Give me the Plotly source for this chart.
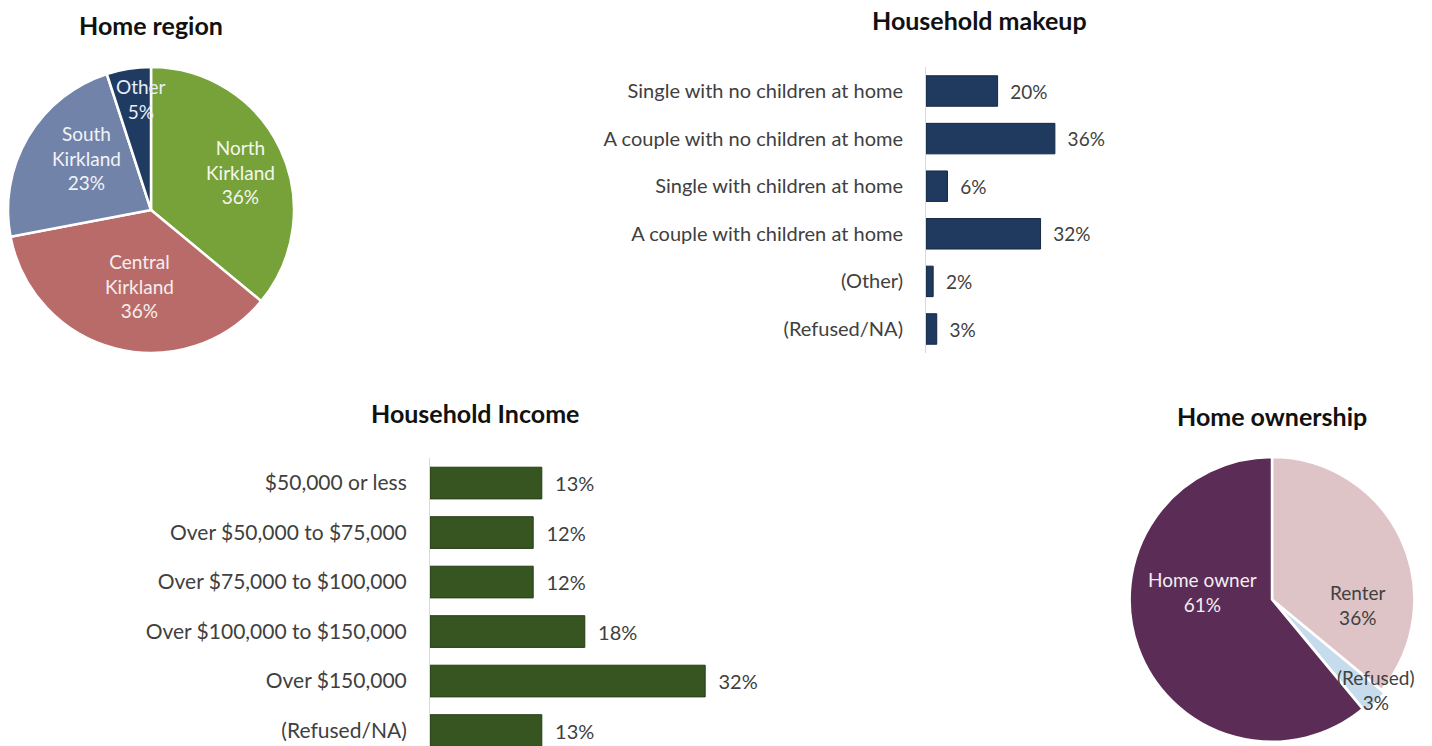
import math
import plotly.graph_objects as go

W, H = 1432, 746

# ---------------- data ----------------
region_labels = ["North Kirkland", "Central Kirkland", "South Kirkland", "Other"]
region_values = [36, 36, 23, 5]

makeup_labels = ["Single with no children at home", "A couple with no children at home",
                 "Single with children at home", "A couple with children at home",
                 "(Other)", "(Refused/NA)"]
makeup_values = [20, 36, 6, 32, 2, 3]

income_labels = ["$50,000 or less", "Over $50,000 to $75,000", "Over $75,000 to $100,000",
                 "Over $100,000 to $150,000", "Over $150,000", "(Refused/NA)"]
income_values = [13, 12, 12, 18, 32, 13]

own_labels = ["Renter", "(Refused)", "Home owner"]
own_values = [36, 3, 61]

# ---------------- styles ----------------
FONT = "Lato"
region_colors = ["#77a23a", "#b96b6a", "#7283a9", "#1f3b61"]
region_text = ["North<br>Kirkland<br>36%", "Central<br>Kirkland<br>36%", "South<br>Kirkland<br>23%", "Other<br>5%"]
region_text_color = ["#f4f7ee", "#f7eeee", "#f1f3f8", "#e8eef6"]
region_label_r = [0.68, 0.54, 0.58, 0.78]
region_label_da = [2, -6, 8, 4]

own_colors = ["#dfc4c7", "#c6dcec", "#5b2c55"]
own_text = ["Renter<br>36%", "(Refused)<br>3%", "Home owner<br>61%"]
own_text_color = ["#404040", "#404040", "#f3eef3"]
own_label_r = [0.60, 0.96, 0.49]
own_label_da = [28.5, -4, 26.3]
own_pull = [0, 0.03, 0]

fig = go.Figure()

# Home region pie
reg_cx, reg_cy, reg_r = 151, 210, 143
fig.add_trace(go.Pie(
    labels=region_labels, values=region_values, sort=False, direction="clockwise", rotation=0,
    marker=dict(colors=region_colors, line=dict(color="white", width=2.5)),
    textinfo="none", hoverinfo="label+percent", showlegend=False,
    domain=dict(x=[(reg_cx - reg_r) / W, (reg_cx + reg_r) / W],
                y=[1 - (reg_cy + reg_r) / H, 1 - (reg_cy - reg_r) / H]),
))

# Home ownership pie
own_cx, own_cy, own_r = 1272, 600, 143
half = own_r * (1 + max(own_pull))
fig.add_trace(go.Pie(
    labels=own_labels, values=own_values, sort=False, direction="clockwise", rotation=0,
    pull=own_pull,
    marker=dict(colors=own_colors, line=dict(color="white", width=2.5)),
    textinfo="none", hoverinfo="label+percent", showlegend=False,
    domain=dict(x=[(own_cx - half) / W, (own_cx + half) / W],
                y=[max(0, 1 - (own_cy + half) / H), 1 - (own_cy - half) / H]),
))

# Household makeup bars
fig.add_trace(go.Bar(
    x=makeup_values, y=makeup_labels, orientation="h", xaxis="x2", yaxis="y2",
    marker=dict(color="#1f3a5e", line=dict(color="#15283f", width=1)),
    texttemplate="\u00a0\u00a0%{x}%", textposition="outside", cliponaxis=False,
    constraintext="none", textfont=dict(family=FONT, size=19, color="#404040"),
    showlegend=False,
))

# Household income bars
fig.add_trace(go.Bar(
    x=income_values, y=income_labels, orientation="h", xaxis="x3", yaxis="y3",
    marker=dict(color="#365520", line=dict(color="#263d15", width=1)),
    texttemplate="\u00a0\u00a0%{x}%", textposition="outside", cliponaxis=False,
    constraintext="none", textfont=dict(family=FONT, size=20, color="#404040"),
    showlegend=False,
))

# pie labels computed from slice angles
def pie_annotations(values, texts, colors, rfac, dang, cx, cy, r):
    anns = []
    total = sum(values)
    cum = 0
    for v, t, c, f, da in zip(values, texts, colors, rfac, dang):
        mid = (cum + v / 2) / total * 360 + da
        cum += v
        a = math.radians(mid)
        px = cx + r * f * math.sin(a)
        py = cy - r * f * math.cos(a)
        anns.append(dict(x=px / W, y=1 - py / H, xref="paper", yref="paper", text=t,
                         showarrow=False, font=dict(family=FONT, size=19, color=c),
                         xanchor="center", yanchor="middle", align="center"))
    return anns

annotations = []
annotations += pie_annotations(region_values, region_text, region_text_color,
                               region_label_r, region_label_da, reg_cx, reg_cy, reg_r)
annotations += pie_annotations(own_values, own_text, own_text_color,
                               own_label_r, own_label_da, own_cx, own_cy, own_r)

titles = [("Home region", 151, 25), ("Household makeup", 979, 20),
          ("Household Income", 475, 413), ("Home ownership", 1272, 416)]
for t, x, y in titles:
    annotations.append(dict(x=x / W, y=1 - y / H, xref="paper", yref="paper", text="<b>" + t + "</b>",
                            showarrow=False, font=dict(family=FONT, size=25, color="#111111"),
                            xanchor="center", yanchor="middle"))

# bar axes geometry
mk_x0, mk_scale, mk_max = 926, 3.58, 40
mk_top, mk_step = 67.2, 47.6
inc_x0, inc_scale, inc_max = 430, 8.6, 35
inc_top, inc_step = 458.3, 49.5
inc_rows_visible = (H - inc_top) / inc_step

axis_common = dict(showgrid=False, zeroline=False, showticklabels=False, fixedrange=True)
ycat_common = dict(showgrid=False, zeroline=False, showline=True, linecolor="#d9d9d9", linewidth=1,
                   ticks="", ticklabelstandoff=18, fixedrange=True)

fig.update_layout(
    width=W, height=H, margin=dict(l=0, r=0, t=0, b=0),
    paper_bgcolor="white", plot_bgcolor="rgba(0,0,0,0)",
    font=dict(family=FONT, color="#404040"),
    bargap=0.36,
    xaxis2=dict(domain=[mk_x0 / W, (mk_x0 + mk_max * mk_scale) / W], range=[0, mk_max],
                anchor="y2", **axis_common),
    yaxis2=dict(domain=[1 - (mk_top + 6 * mk_step) / H, 1 - mk_top / H], anchor="x2",
                range=[5.5, -0.5], tickfont=dict(family=FONT, size=20, color="#404040"),
                **ycat_common),
    xaxis3=dict(domain=[inc_x0 / W, (inc_x0 + inc_max * inc_scale) / W], range=[0, inc_max],
                anchor="y3", **axis_common),
    yaxis3=dict(domain=[0, 1 - inc_top / H], anchor="x3",
                range=[-0.5 + inc_rows_visible, -0.5], tickfont=dict(family=FONT, size=21, color="#404040"),
                **ycat_common),
    annotations=annotations,
)

fig.write_html("out.html", config={"displayModeBar": False},
               post_script="document.body.style.margin='0';")
